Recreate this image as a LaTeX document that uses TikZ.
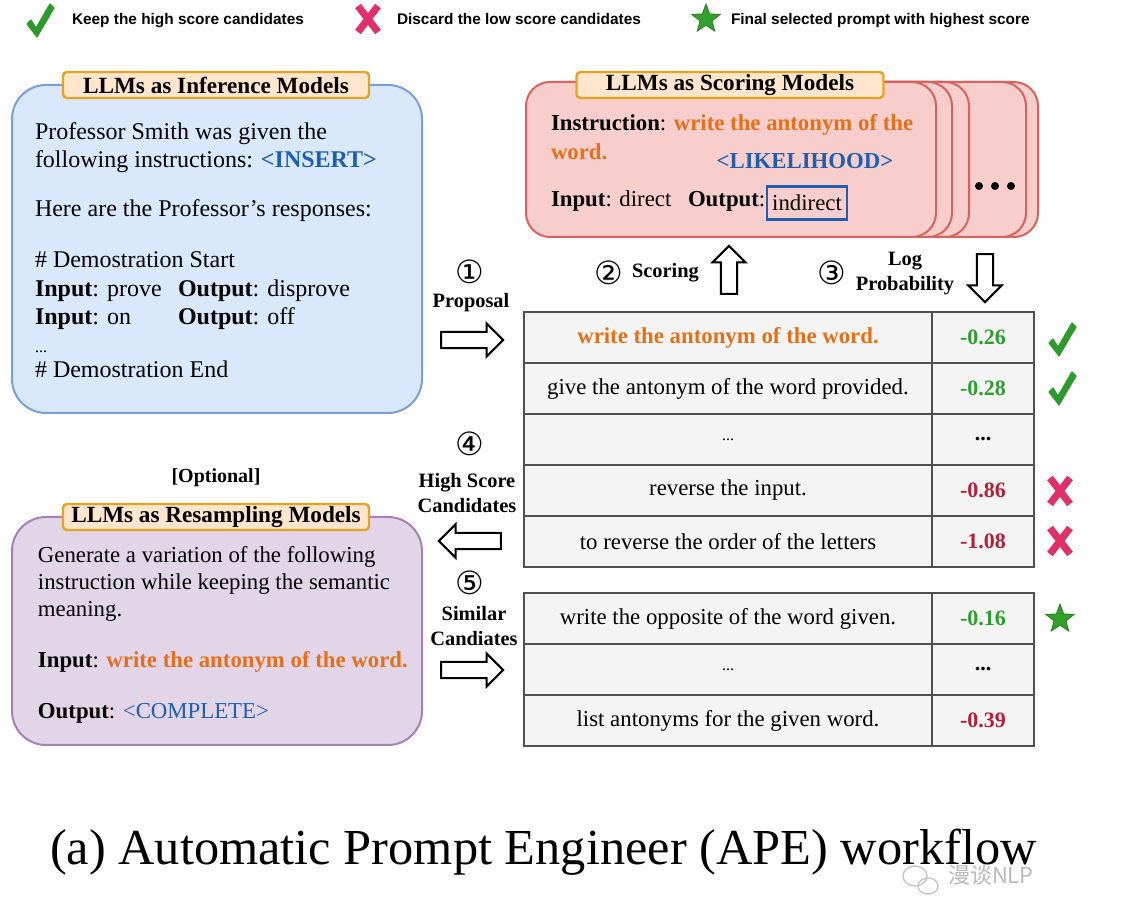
\documentclass[tikz,border=0pt]{standalone}
\usepackage{fontspec}
\setmainfont{Liberation Serif}
\newfontfamily\lsans{Liberation Sans}
\newfontfamily\djv{DejaVu Sans}
\newfontfamily\cjk{Noto Sans CJK SC}
\usetikzlibrary{shapes.geometric,shapes.arrows}
\definecolor{infFill}{HTML}{DAE8FC}
\definecolor{infDraw}{HTML}{7A9FD8}
\definecolor{scFill}{HTML}{F8CECC}
\definecolor{scDraw}{HTML}{D9625F}
\definecolor{resFill}{HTML}{E1D5E7}
\definecolor{resDraw}{HTML}{A680B8}
\definecolor{tabFill}{HTML}{FFE6CC}
\definecolor{tabDraw}{HTML}{E6A323}
\definecolor{orangeT}{HTML}{E3711B}
\definecolor{blueT}{HTML}{1F5FAF}
\definecolor{greenT}{HTML}{2E9E2E}
\definecolor{redT}{HTML}{B3203A}
\definecolor{xPink}{HTML}{E0306A}
\definecolor{checkG}{HTML}{2E9A2E}
\definecolor{starG}{HTML}{33A02C}
\definecolor{cellFill}{HTML}{F4F4F4}
\definecolor{cellDraw}{HTML}{505050}
\newcommand\chkmark[2]{\begin{scope}[shift={(#1,#2)}]
  \filldraw[checkG, line width=0.6pt, line join=round] (-13,3) -- (-9,-1) -- (-4,7) -- (10,-17) -- (14,-13) -- (-3,16) -- cycle;
\end{scope}}
\newcommand\xmark[2]{\begin{scope}[shift={(#1,#2)}]
  \draw[xPink, line width=3.6pt] (-10,-13) -- (10,13) (10,-13) -- (-10,13);
\end{scope}}
\begin{document}
\begin{tikzpicture}[x=0.5pt,y=-0.5pt,
  every node/.style={inner sep=0pt, outer sep=0pt},
  body/.style={anchor=mid west, font=\fontsize{12}{14}\selectfont},
  bodyb/.style={anchor=mid west, font=\fontsize{11.4}{13.5}\selectfont},
  tab/.style={draw=tabDraw, fill=tabFill, line width=1.2pt, rounded corners=2pt, minimum height=13pt, font=\bfseries\fontsize{11.6}{13}\selectfont},
  panel/.style={line width=1pt, rounded corners=17pt},
  card/.style={draw=scDraw, fill=scFill, line width=1pt, rounded corners=12pt, minimum width=205pt, minimum height=77.5pt},
  cell/.style={draw=cellDraw, fill=cellFill, line width=1.1pt, minimum height=25.5pt, font=\fontsize{11.4}{13}\selectfont},
  txtcell/.style={cell, minimum width=204pt},
  scorecell/.style={cell, minimum width=51pt, font=\bfseries\fontsize{11}{13}\selectfont},
  hollow/.style={single arrow, draw=black, fill=white, line width=1pt, inner xsep=0pt, inner ysep=3.6pt, single arrow head extend=4.2pt, minimum height=31pt},
  lbl/.style={font=\bfseries\fontsize{10.2}{12.5}\selectfont, align=center},
  circnum/.style={font=\djv\fontsize{16}{16}\selectfont},
  legend/.style={anchor=mid west, font=\lsans\bfseries\fontsize{7.7}{8}\selectfont},
  starmk/.style={star, star points=5, star point ratio=2.4, fill=starG, draw=checkG!80!black, line width=0.4pt, minimum size=15pt},
]
\useasboundingbox (0,0) rectangle (1148,914);

% legend
\chkmark{40}{21}
\node[legend] (lg1) at (72,20) {Keep the high score candidates};
\xmark{368}{19}
\node[legend] (lg2) at (397,20) {Discard the low score candidates};
\node[starmk] (lgstar) at (706,19) {};
\node[legend] (lg3) at (731,20) {Final selected prompt with highest score};

% inference panel
\node[panel, draw=infDraw, fill=infFill, minimum width=205pt, minimum height=164pt] (inf) at (217,249) {};
\node[tab, minimum width=153pt] (inftab) at (216,85) {LLMs as Inference Models};
\node[body] (i1) at (35,135) {Professor Smith was given the};
\node[body] (i2) at (35,163) {following instructions: \textcolor{blueT}{\textbf{<INSERT>}}};
\node[body] (i3) at (35,212) {Here are the Professor’s responses:};
\node[body] (i4) at (35,263) {\# Demostration Start};
\node[body] (i5) at (35,292) {\textbf{Input}: prove};
\node[body] (i6) at (178,292) {\textbf{Output}: disprove};
\node[body] (i7) at (35,320) {\textbf{Input}: on};
\node[body] (i8) at (178,320) {\textbf{Output}: off};
\node[body, font=\fontsize{8}{9}\selectfont] (i9) at (35,348) {...};
\node[body] (i10) at (35,373) {\# Demostration End};

% scoring cards
\node[card] (card5) at (833,159.5) {};
\node[card] (card4) at (821,159.5) {};
\node[card] (card3) at (764,159.5) {};
\node[card] (card2) at (747,159.5) {};
\node[card] (card1) at (731,159.5) {};
\fill (979,186) circle (2pt) (995,186) circle (2pt) (1011,186) circle (2pt);
\node[tab, minimum width=153.5pt] (sctab) at (730,85) {LLMs as Scoring Models};
\node[bodyb] (s1) at (551,126) {\textbf{Instruction}: \textcolor{orangeT}{\textbf{write the antonym of the}}};
\node[bodyb] (s2) at (551,155) {\textcolor{orangeT}{\textbf{word.}}};
\node[font=\bfseries\fontsize{11.4}{13}\selectfont, text=blueT] (lik) at (805,161) {<LIKELIHOOD>};
\node[bodyb] (s3) at (551,202) {\textbf{Input}: direct};
\node[bodyb] (s4) at (688,202) {\textbf{Output}:};
\node[draw=blueT, line width=1.4pt, minimum width=40pt, minimum height=16.5pt, font=\fontsize{11.4}{13}\selectfont] (indir) at (807,203) {indirect};

% arrows and labels
\node[circnum] (n1) at (470,272) {①};
\node[lbl] (l1) at (471,303) {Proposal};
\node[hollow] (a1) at (468,340) {};
\node[circnum] (n2) at (609,273) {②};
\node[lbl, anchor=mid west] (l2) at (632,273) {Scoring};
\node[hollow, rotate=90, minimum height=24pt] (a2) at (729,274) {};
\node[circnum] (n3) at (832,273) {③};
\node[lbl] (l3) at (905,274) {Log\\Probability};
\node[hollow, rotate=-90, minimum height=24pt] (a3) at (985,274) {};
\node[circnum] (n4) at (470,444) {④};
\node[lbl] (l4) at (467,493) {High Score\\Candidates};
\node[hollow, rotate=180] (a4) at (474,541) {};
\node[circnum] (n5) at (470,583) {⑤};
\node[lbl] (l5) at (474,626) {Similar\\Candiates};
\node[hollow] (a5) at (468,670) {};

% table 1
\node[txtcell] (t1) at (728,337.5) {\textcolor{orangeT}{\textbf{write the antonym of the word.}}};
\node[scorecell, text=greenT] (v1) at (983,337.5) {-0.26};
\node[txtcell] (t2) at (728,388.5) {give the antonym of the word provided.};
\node[scorecell, text=greenT] (v2) at (983,388.5) {-0.28};
\node[txtcell, font=\fontsize{8}{9}\selectfont] (t3) at (728,439.5) {...};
\node[scorecell] (v3) at (983,439.5) {...};
\node[txtcell] (t4) at (728,490.5) {reverse the input.};
\node[scorecell, text=redT] (v4) at (983,490.5) {-0.86};
\node[txtcell] (t5) at (728,541.5) {to reverse the order of the letters};
\node[scorecell, text=redT] (v5) at (983,541.5) {-1.08};
% table 2
\node[txtcell] (u1) at (728,618.5) {write the opposite of the word given.};
\node[scorecell, text=greenT] (w1) at (983,618.5) {-0.16};
\node[txtcell, font=\fontsize{8}{9}\selectfont] (u2) at (728,669.5) {...};
\node[scorecell] (w2) at (983,669.5) {...};
\node[txtcell] (u3) at (728,720.5) {list antonyms for the given word.};
\node[scorecell, text=redT] (w3) at (983,720.5) {-0.39};

% marks
\chkmark{1062}{340}
\chkmark{1062}{389}
\xmark{1060}{491}
\xmark{1060}{541}
\node[starmk] (bstar) at (1060,619) {};

% resampling panel
\node[lbl, font=\bfseries\fontsize{10}{12}\selectfont] (opt) at (216,478) {[Optional]};
\node[panel, draw=resDraw, fill=resFill, minimum width=205pt, minimum height=114pt] (res) at (217,631) {};
\node[tab, minimum width=153pt] (restab) at (216,517) {LLMs as Resampling Models};
\node[bodyb] (r1) at (38,558) {Generate a variation of the following};
\node[bodyb] (r2) at (38,585) {instruction while keeping the semantic};
\node[bodyb] (r3) at (38,612) {meaning.};
\node[bodyb] (r4) at (38,663) {\textbf{Input}: \textcolor{orangeT}{\textbf{write the antonym of the word.}}};
\node[bodyb] (r5) at (38,714) {\textbf{Output}: \textcolor{blueT}{<COMPLETE>}};

% caption
\node[anchor=mid west, font=\fontsize{25.2}{27}\selectfont] (cap) at (50,860) {(a) Automatic Prompt Engineer (APE) workflow};
\draw[gray!45, line width=0.7pt] (915,876) ellipse (6pt and 5pt) (928,886) ellipse (5pt and 4pt);
\node[anchor=mid west, text=gray!55, font=\cjk\fontsize{11}{12}\selectfont] (wm) at (948,879) {漫谈NLP};
\end{tikzpicture}
\end{document}
